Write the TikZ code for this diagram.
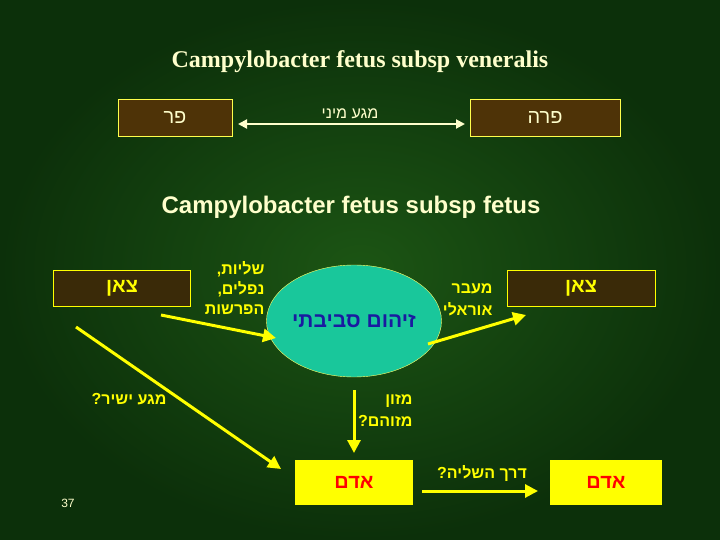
\documentclass[tikz,border=0pt]{standalone}
\usepackage{fontspec}
\setmainfont{Liberation Serif}
\newfontfamily\heb[Script=Hebrew]{Liberation Sans}
\newfontfamily\lsans{Liberation Sans}
\TeXXeTstate=1
\usetikzlibrary{arrows.meta,shapes.geometric}
\definecolor{bgin}{HTML}{1C5514}
\definecolor{bgout}{HTML}{0C300A}
\definecolor{boxbrown}{HTML}{3A2A08}
\definecolor{ylw}{HTML}{FFFF00}
\definecolor{lighttxt}{HTML}{FFFFCC}
\definecolor{circ}{HTML}{19C79B}
\definecolor{navy}{HTML}{1A1AA0}
\begin{document}
\begin{tikzpicture}[x=1pt,y=-1pt,
  brownbox/.style={draw=ylw,fill=boxbrown,line width=0.8pt,minimum height=36pt,text=ylw,font=\heb\bfseries\fontsize{20}{22}\selectfont},
  topbox/.style={draw=ylw!70,fill=boxbrown!90!orange,line width=0.8pt,minimum height=37pt,text=lighttxt,font=\heb\fontsize{20}{22}\selectfont},
  humanbox/.style={fill=ylw,minimum height=45pt,text=red,font=\heb\bfseries\fontsize{20}{22}\selectfont},
  lbl/.style={text=ylw,font=\heb\bfseries\fontsize{16}{19}\selectfont,align=right},
  yarrow/.style={draw=ylw,line width=3pt,-{Triangle[length=13pt,width=13pt]}}]
\shade[inner color=bgin,outer color=bgout] (0,0) rectangle (720,540);
\useasboundingbox (0,0) rectangle (720,540);
\node[text=lighttxt,font=\bfseries\fontsize{24}{28}\selectfont] (t1) at (360,62) {Campylobacter fetus subsp veneralis};
\node[topbox,minimum width=114pt] (par) at (175,118) {\beginR פר\endR};
\node[topbox,minimum width=150pt] (para) at (545,118) {\beginR פרה\endR};
\coordinate (m1) at (238,124); \coordinate (m2) at (465,124);
\draw[lighttxt,line width=2pt,{Triangle[length=9pt,width=9pt]}-{Triangle[length=9pt,width=9pt]}] (m1) -- (m2);
\node[text=lighttxt,font=\heb\fontsize{16}{18}\selectfont] (mm) at (350,114) {\beginR מגע מיני\endR};
\node[text=lighttxt,font=\lsans\bfseries\fontsize{24}{28}\selectfont] (t2) at (351,207) {Campylobacter fetus subsp fetus};
\node[brownbox,minimum width=137pt] (tz1) at (122,288) {\beginR צאן\endR};
\node[brownbox,minimum width=148pt] (tz2) at (581,288) {\beginR צאן\endR};
\node[ellipse,fill=circ,draw=ylw!60,minimum width=148pt,minimum height=112pt,inner sep=0pt,text=navy,font=\heb\bfseries\fontsize{21}{24}\selectfont] (env) at (354,321) {\beginR זיהום סביבתי\endR};
\node[humanbox,minimum width=118pt] (h1) at (354,482) {\beginR אדם\endR};
\node[humanbox,minimum width=112pt] (h2) at (606,482) {\beginR אדם\endR};
\node[lbl,anchor=north east] (l1) at (268,258) {\beginR שליות,\endR\\[1pt]\beginR נפלים,\endR\\[1pt]\beginR הפרשות\endR};
\node[lbl,anchor=east] (l2) at (496,300) {\beginR מעבר\endR\\[3pt]\beginR אוראלי\endR};
\node[lbl,anchor=east] (l3) at (170,399) {\beginR מגע ישיר?\endR};
\node[lbl,anchor=east] (l4) at (416,411) {\beginR מזון\endR\\[3pt]\beginR מזוהם?\endR};
\node[lbl] (l5) at (482,473) {\beginR דרך השליה?\endR};
\coordinate (a1s) at (161,315); \coordinate (a1e) at (276,338);
\coordinate (a2s) at (428,344); \coordinate (a2e) at (526,315);
\coordinate (a3s) at (76,327);  \coordinate (a3e) at (281,469);
\coordinate (a4s) at (354,390); \coordinate (a4e) at (354,453);
\coordinate (a5s) at (422,491); \coordinate (a5e) at (538,491);
\draw[yarrow] (a1s) -- (a1e);
\draw[yarrow] (a2s) -- (a2e);
\draw[yarrow] (a3s) -- (a3e);
\draw[yarrow] (a4s) -- (a4e);
\draw[yarrow] (a5s) -- (a5e);
\node[text=lighttxt,font=\lsans\fontsize{12}{14}\selectfont] (pg) at (68,503) {37};
\end{tikzpicture}
\end{document}
